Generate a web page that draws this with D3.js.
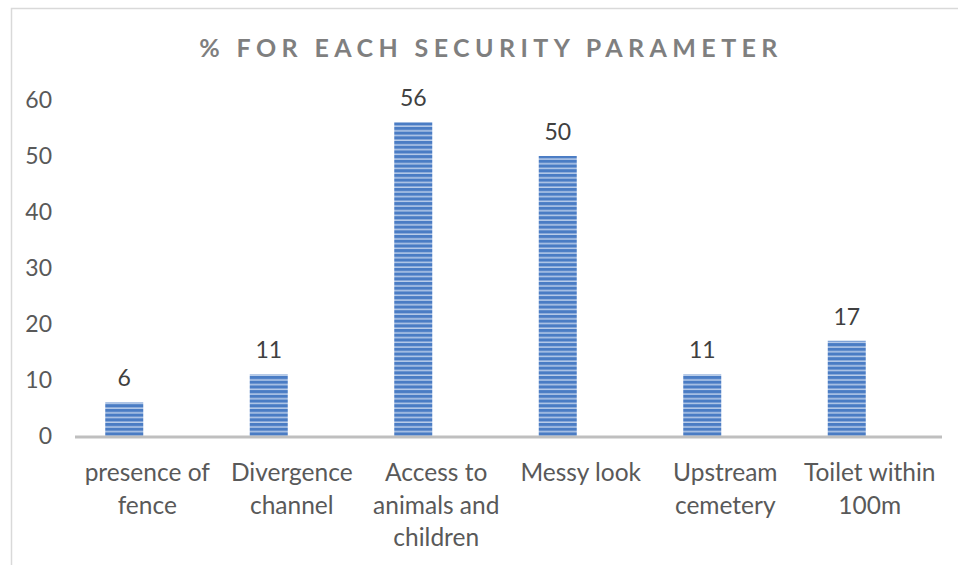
<!DOCTYPE html>
<html><head><meta charset="utf-8">
<script src="https://cdn.jsdelivr.net/npm/d3@7"></script>
<style>body{margin:0;background:#fff}svg{display:block}</style>
</head><body>
<svg id="c" width="958" height="565"></svg>
<script>
const categories = [["presence of","fence"],["Divergence","channel"],["Access to","animals and","children"],["Messy look"],["Upstream","cemetery"],["Toilet within","100m"]];
const values = [6, 11, 56, 50, 11, 17];
const yTicks = [0, 10, 20, 30, 40, 50, 60];
const title = "% FOR EACH SECURITY PARAMETER";

(function(){
const svg = d3.select("#c");
const font = "Lato, 'Open Sans', sans-serif";
const defs = svg.append("defs");
const pat = defs.append("pattern").attr("id","stripe").attr("patternUnits","userSpaceOnUse")
  .attr("width",8).attr("height",4.7);
pat.append("rect").attr("width",8).attr("height",4.7).attr("fill","#4a7cc4");
pat.append("rect").attr("y",3.2).attr("width",8).attr("height",1.5).attr("fill","#b9cdea");

svg.append("rect").attr("x",11.5).attr("y",8.5).attr("width",1000).attr("height",600)
  .attr("fill","none").attr("stroke","#d9d9d9").attr("stroke-width",1.5);

const mLeft = 75, mRight = 942, mTop = 100, mBottom = 436;
const x = d3.scaleBand().domain(d3.range(categories.length)).range([mLeft,mRight]);
const y = d3.scaleLinear().domain([0,60]).range([mBottom,mTop]);

svg.append("text").attr("x",491).attr("y",57).attr("text-anchor","middle")
  .attr("font-family",font).attr("font-weight","bold").attr("font-size",25)
  .attr("letter-spacing",5.4).attr("fill","#7f7f7f").text(title);

const yAxis = svg.append("g").attr("transform",`translate(${mLeft},0)`)
  .call(d3.axisLeft(y).tickValues(yTicks).tickSize(0).tickPadding(23));
yAxis.select(".domain").remove();
yAxis.selectAll("text").attr("font-family",font).attr("font-size",23).attr("fill","#595959");

const bw = 38, off = -23;
svg.selectAll("rect.bar").data(values).join("rect").attr("class","bar")
  .attr("x",(d,i)=>x(i)+x.bandwidth()/2+off-bw/2).attr("width",bw)
  .attr("y",d=>y(d)).attr("height",d=>mBottom-y(d)).attr("fill","url(#stripe)");

svg.selectAll("text.val").data(values).join("text").attr("class","val")
  .attr("x",(d,i)=>x(i)+x.bandwidth()/2+off).attr("y",d=>y(d)-16)
  .attr("text-anchor","middle").attr("font-family",font).attr("font-size",23)
  .attr("fill","#404040").text(d=>d);

svg.append("line").attr("x1",mLeft).attr("x2",mRight).attr("y1",mBottom+1).attr("y2",mBottom+1)
  .attr("stroke","#bfbfbf").attr("stroke-width",3);

const cl = svg.selectAll("text.cat").data(categories).join("text").attr("class","cat")
  .attr("text-anchor","middle").attr("font-family",font).attr("font-size",24.5).attr("fill","#595959");
cl.each(function(lines,i){
  d3.select(this).selectAll("tspan").data(lines).join("tspan")
    .attr("x",x(i)+x.bandwidth()/2).attr("y",(d,j)=>481+j*32.5).text(d=>d);
});
})();
</script>
</body></html>
